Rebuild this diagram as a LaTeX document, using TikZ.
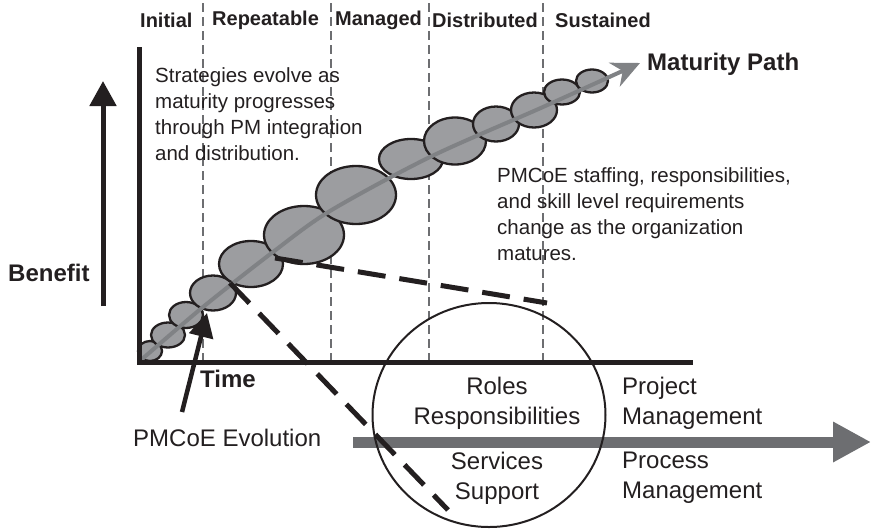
\documentclass[tikz,border=0pt]{standalone}
\usepackage{fontspec}
\setmainfont{Liberation Sans}
\usetikzlibrary{arrows.meta,shapes.geometric}
\definecolor{ink}{HTML}{231F20}
\definecolor{midgray}{HTML}{6D6E71}
\definecolor{pathgray}{HTML}{808285}
\definecolor{bubblefill}{HTML}{9C9DA0}
\tikzset{
  stagelabel/.style={inner sep=0pt, anchor=west, text=ink, font=\fontsize{20}{24}\selectfont\bfseries},
  bigbold/.style={inner sep=0pt, anchor=west, text=ink, font=\fontsize{24}{28}\selectfont\bfseries},
  note/.style={inner sep=0pt, anchor=west, align=left, text=ink, font=\fontsize{20.5}{26}\selectfont},
  plain/.style={inner sep=0pt, text=ink, font=\fontsize{24}{30}\selectfont},
  stageline/.style={draw=midgray, line width=2.5pt, dash pattern=on 9pt off 5pt},
  bubble/.style={fill=bubblefill, draw=ink, line width=2.3pt},
  zoomline/.style={draw=ink, line width=5pt, dash pattern=on 28pt off 14pt},
  blackarrow/.style={draw=ink, line width=5pt, -{Triangle[length=25pt,width=26pt]}},
}
\begin{document}
\begin{tikzpicture}[x=1pt,y=-1pt]
\useasboundingbox (0,0) rectangle (871,528);

% stage separators
\foreach \xx in {203,331,429,543} \draw[stageline] (\xx,3) -- (\xx,362);

% stage labels
\node[stagelabel] (initial) at (140,20) {Initial};
\node[stagelabel] (repeatable) at (212,20) {Repeatable};
\node[stagelabel] (managed) at (335,20) {Managed};
\node[stagelabel] (distributed) at (432,20) {Distributed};
\node[stagelabel] (sustained) at (555,20) {Sustained};

% bubbles
\draw[bubble] (150,351) ellipse [x radius=12, y radius=10];
\draw[bubble] (168,335) ellipse [x radius=17, y radius=12.5];
\draw[bubble] (186,315) ellipse [x radius=17, y radius=13];
\draw[bubble] (213,293) ellipse [x radius=23, y radius=17.5];
\draw[bubble] (251,264) ellipse [x radius=32, y radius=23];
\draw[bubble] (304,235) ellipse [x radius=40, y radius=29];
\draw[bubble] (356,195) ellipse [x radius=40, y radius=29];
\draw[bubble] (411,159) ellipse [x radius=32, y radius=20];
\draw[bubble] (455,141) ellipse [x radius=31, y radius=23.5];
\draw[bubble] (496,124) ellipse [x radius=23, y radius=17.5];
\draw[bubble] (534,110) ellipse [x radius=23, y radius=17.5];
\draw[bubble] (562,92) ellipse [x radius=18, y radius=12.5];
\draw[bubble] (592,81) ellipse [x radius=16, y radius=11.5];

% maturity path
\draw[pathgray, line width=4pt, -{Stealth[length=28pt,width=26pt,inset=9pt]}]
  plot[smooth] coordinates {(141,360) (203,307) (273,252) (330,211) (430,157) (543,107) (640,63)};
\node[bigbold] (maturity) at (647,64) {Maturity Path};

% axes
\draw[ink, line width=5pt] (139,47) -- (139,362) -- (693,362);

% benefit arrow
\coordinate (bstart) at (103,306);
\coordinate (bend) at (103,81);
\draw[blackarrow] (bstart) -- (bend);
\node[bigbold] (benefit) at (8,273) {Benefit};
\node[bigbold] (time) at (200,379) {Time};

% texts
\node[note] (strategies) at (155,114) {Strategies evolve as\\maturity progresses\\through PM integration\\and distribution.};
\node[note] (staffing) at (497,214) {PMCoE staffing, responsibilities,\\and skill level requirements\\change as the organization\\matures.};

% big gray arrow
\coordinate (gstart) at (353,442);
\coordinate (gend) at (871,442);
\draw[midgray, line width=11pt, -{Triangle[length=38pt,width=38pt]}] (gstart) -- (gend);

% circle
\node[draw=ink, line width=2pt, ellipse, minimum width=233pt, minimum height=224pt, inner sep=0pt] (circ) at (489,415) {};
\node[plain, align=center] (roles) at (497,403) {Roles\\Responsibilities};
\node[plain, align=center] (services) at (497,478) {Services\\Support};
\node[plain, anchor=west, align=left] (project) at (622,403) {Project\\Management};
\node[plain, anchor=west, align=left] (process) at (622,478) {Process\\Management};

% zoom lines
\coordinate (zaA) at (275,258);
\coordinate (zaB) at (547,303);
\coordinate (zbA) at (230,283);
\coordinate (zbB) at (448,510);
\draw[zoomline] (zaA) -- (zaB);
\draw[zoomline] (zbA) -- (zbB);

% PMCoE evolution
\node[plain, anchor=west] (evolution) at (133,438) {PMCoE Evolution};
\coordinate (estart) at (182,412);
\coordinate (eend) at (207,313);
\draw[draw=ink, line width=4.5pt, -{Triangle[length=24pt,width=24pt]}] (estart) -- (eend);
\end{tikzpicture}
\end{document}
